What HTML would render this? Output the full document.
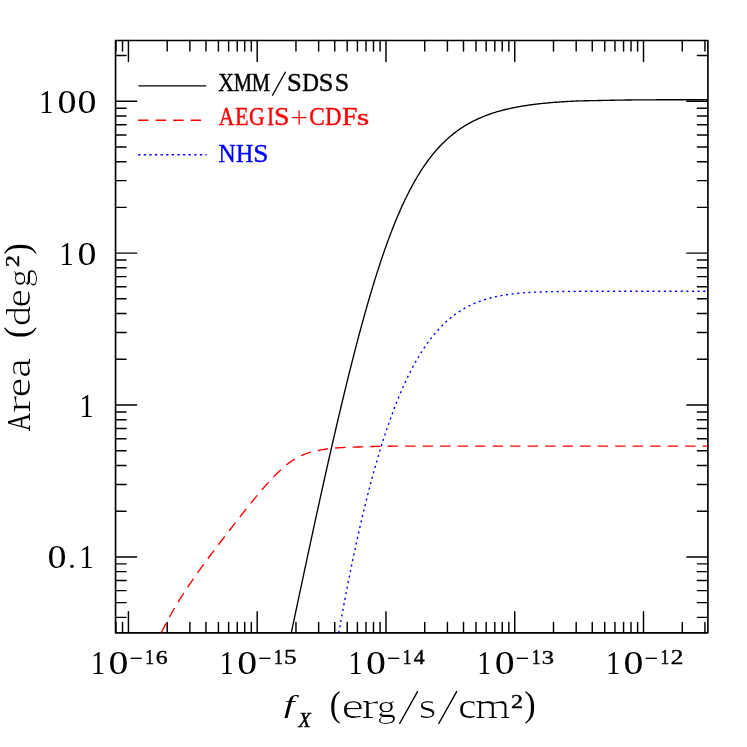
<!DOCTYPE html>
<html><head><meta charset="utf-8"><title>Area curve</title>
<style>html,body{margin:0;padding:0;background:#fff}body{width:747px;height:747px;overflow:hidden;font-family:"Liberation Serif",serif}svg{display:block;will-change:transform;transform:translateZ(0)}</style>
</head><body>
<svg width="747" height="747" viewBox="0 0 747 747">
<g fill="none" stroke="#000" stroke-width="1.45" stroke-linecap="round" stroke-linejoin="round">
<rect x="115.55" y="40.45" width="592.35" height="592.4" stroke-width="1.65"/>
<path d="M115.95 40.45 v10.5 M115.95 632.85 v-10.5 M122.53 40.45 v10.5 M122.53 632.85 v-10.5 M128.43 40.45 v21.1 M128.43 632.85 v-21.1 M167.19 40.45 v10.5 M167.19 632.85 v-10.5 M189.87 40.45 v10.5 M189.87 632.85 v-10.5 M205.96 40.45 v10.5 M205.96 632.85 v-10.5 M218.43 40.45 v10.5 M218.43 632.85 v-10.5 M228.63 40.45 v10.5 M228.63 632.85 v-10.5 M237.25 40.45 v10.5 M237.25 632.85 v-10.5 M244.72 40.45 v10.5 M244.72 632.85 v-10.5 M251.31 40.45 v10.5 M251.31 632.85 v-10.5 M257.2 40.45 v21.1 M257.2 632.85 v-21.1 M295.96 40.45 v10.5 M295.96 632.85 v-10.5 M318.64 40.45 v10.5 M318.64 632.85 v-10.5 M334.73 40.45 v10.5 M334.73 632.85 v-10.5 M347.21 40.45 v10.5 M347.21 632.85 v-10.5 M357.4 40.45 v10.5 M357.4 632.85 v-10.5 M366.02 40.45 v10.5 M366.02 632.85 v-10.5 M373.49 40.45 v10.5 M373.49 632.85 v-10.5 M380.08 40.45 v10.5 M380.08 632.85 v-10.5 M385.97 40.45 v21.1 M385.97 632.85 v-21.1 M424.73 40.45 v10.5 M424.73 632.85 v-10.5 M447.41 40.45 v10.5 M447.41 632.85 v-10.5 M463.5 40.45 v10.5 M463.5 632.85 v-10.5 M475.98 40.45 v10.5 M475.98 632.85 v-10.5 M486.17 40.45 v10.5 M486.17 632.85 v-10.5 M494.8 40.45 v10.5 M494.8 632.85 v-10.5 M502.26 40.45 v10.5 M502.26 632.85 v-10.5 M508.85 40.45 v10.5 M508.85 632.85 v-10.5 M514.74 40.45 v21.1 M514.74 632.85 v-21.1 M553.51 40.45 v10.5 M553.51 632.85 v-10.5 M576.18 40.45 v10.5 M576.18 632.85 v-10.5 M592.27 40.45 v10.5 M592.27 632.85 v-10.5 M604.75 40.45 v10.5 M604.75 632.85 v-10.5 M614.95 40.45 v10.5 M614.95 632.85 v-10.5 M623.57 40.45 v10.5 M623.57 632.85 v-10.5 M631.03 40.45 v10.5 M631.03 632.85 v-10.5 M637.62 40.45 v10.5 M637.62 632.85 v-10.5 M643.51 40.45 v21.1 M643.51 632.85 v-21.1 M682.28 40.45 v10.5 M682.28 632.85 v-10.5 M704.95 40.45 v10.5 M704.95 632.85 v-10.5 M115.55 617.35 h10.5 M707.9 617.35 h-10.5 M115.55 602.63 h10.5 M707.9 602.63 h-10.5 M115.55 590.6 h10.5 M707.9 590.6 h-10.5 M115.55 580.43 h10.5 M707.9 580.43 h-10.5 M115.55 571.62 h10.5 M707.9 571.62 h-10.5 M115.55 563.85 h10.5 M707.9 563.85 h-10.5 M115.55 556.9 h21.1 M707.9 556.9 h-21.1 M115.55 511.18 h10.5 M707.9 511.18 h-10.5 M115.55 484.43 h10.5 M707.9 484.43 h-10.5 M115.55 465.45 h10.5 M707.9 465.45 h-10.5 M115.55 450.73 h10.5 M707.9 450.73 h-10.5 M115.55 438.7 h10.5 M707.9 438.7 h-10.5 M115.55 428.53 h10.5 M707.9 428.53 h-10.5 M115.55 419.72 h10.5 M707.9 419.72 h-10.5 M115.55 411.95 h10.5 M707.9 411.95 h-10.5 M115.55 405 h21.1 M707.9 405 h-21.1 M115.55 359.28 h10.5 M707.9 359.28 h-10.5 M115.55 332.53 h10.5 M707.9 332.53 h-10.5 M115.55 313.55 h10.5 M707.9 313.55 h-10.5 M115.55 298.83 h10.5 M707.9 298.83 h-10.5 M115.55 286.8 h10.5 M707.9 286.8 h-10.5 M115.55 276.64 h10.5 M707.9 276.64 h-10.5 M115.55 267.83 h10.5 M707.9 267.83 h-10.5 M115.55 260.06 h10.5 M707.9 260.06 h-10.5 M115.55 253.11 h21.1 M707.9 253.11 h-21.1 M115.55 207.38 h10.5 M707.9 207.38 h-10.5 M115.55 180.63 h10.5 M707.9 180.63 h-10.5 M115.55 161.66 h10.5 M707.9 161.66 h-10.5 M115.55 146.93 h10.5 M707.9 146.93 h-10.5 M115.55 134.91 h10.5 M707.9 134.91 h-10.5 M115.55 124.74 h10.5 M707.9 124.74 h-10.5 M115.55 115.93 h10.5 M707.9 115.93 h-10.5 M115.55 108.16 h10.5 M707.9 108.16 h-10.5 M115.55 101.21 h21.1 M707.9 101.21 h-21.1 M115.55 55.48 h10.5 M707.9 55.48 h-10.5"/>
</g>
<clipPath id="c"><rect x="115.55" y="40.45" width="592.35" height="592.4"/></clipPath>
<g fill="none" clip-path="url(#c)" stroke-linejoin="round">
<path stroke="#000" stroke-width="1.35" d="M282 677.28 L282.3 675.85 L282.6 674.41 L282.9 672.97 L283.2 671.54 L283.5 670.1 L283.8 668.66 L284.1 667.23 L284.4 665.79 L284.7 664.36 L285 662.92 L285.3 661.49 L285.6 660.05 L285.9 658.62 L286.2 657.18 L286.5 655.75 L286.8 654.32 L287.1 652.89 L287.4 651.45 L287.7 650.02 L288 648.59 L288.3 647.16 L288.6 645.73 L288.9 644.3 L289.2 642.87 L289.5 641.44 L289.8 640.01 L290.1 638.58 L290.4 637.15 L290.7 635.72 L291 634.3 L291.3 632.87 L291.6 631.44 L291.9 630.02 L292.2 628.59 L292.5 627.17 L292.8 625.74 L293.1 624.32 L293.4 622.89 L293.7 621.47 L294 620.04 L294.3 618.62 L294.6 617.2 L294.9 615.78 L295.2 614.36 L295.5 612.93 L295.8 611.51 L296.1 610.09 L296.4 608.67 L296.7 607.26 L297 605.84 L297.3 604.42 L297.6 603 L297.9 601.58 L298.2 600.17 L298.5 598.75 L298.8 597.34 L299.1 595.92 L299.4 594.51 L299.7 593.09 L300 591.68 L300.3 590.27 L300.6 588.85 L300.9 587.44 L301.2 586.03 L301.5 584.62 L301.8 583.21 L302.1 581.8 L302.4 580.39 L302.7 578.99 L303 577.58 L303.3 576.17 L303.6 574.76 L303.9 573.36 L304.2 571.95 L304.5 570.55 L304.8 569.15 L305.1 567.74 L305.4 566.34 L305.7 564.94 L306 563.54 L306.3 562.14 L306.6 560.74 L306.9 559.34 L307.2 557.94 L307.5 556.54 L307.8 555.14 L308.1 553.75 L308.4 552.35 L308.7 550.96 L309 549.56 L309.3 548.17 L309.6 546.78 L309.9 545.39 L310.2 544 L310.5 542.61 L310.8 541.22 L311.1 539.83 L311.4 538.44 L311.7 537.05 L312 535.67 L312.3 534.28 L312.6 532.9 L312.9 531.51 L313.2 530.13 L313.5 528.75 L313.8 527.37 L314.1 525.99 L314.4 524.61 L314.7 523.23 L315 521.85 L315.3 520.47 L315.6 519.1 L315.9 517.72 L316.2 516.35 L316.5 514.97 L316.8 513.6 L317.1 512.23 L317.4 510.86 L317.7 509.49 L318 508.12 L318.3 506.76 L318.6 505.39 L318.9 504.02 L319.2 502.66 L319.5 501.3 L319.8 499.93 L320.1 498.57 L320.4 497.21 L320.7 495.85 L321 494.5 L321.3 493.14 L321.6 491.78 L321.9 490.43 L322.2 489.07 L322.5 487.72 L322.8 486.37 L323.1 485.02 L323.4 483.67 L323.7 482.32 L324 480.98 L324.3 479.63 L324.6 478.29 L324.9 476.94 L325.2 475.6 L325.5 474.26 L325.8 472.92 L326.1 471.58 L326.4 470.25 L326.7 468.91 L327 467.58 L327.3 466.24 L327.6 464.91 L327.9 463.58 L328.2 462.25 L328.5 460.92 L328.8 459.6 L329.1 458.27 L329.4 456.95 L329.7 455.62 L330 454.3 L330.3 452.98 L330.6 451.67 L330.9 450.35 L331.2 449.03 L331.5 447.72 L331.8 446.41 L332.1 445.1 L332.4 443.79 L332.7 442.48 L333 441.17 L333.3 439.87 L333.6 438.56 L333.9 437.26 L334.2 435.96 L334.5 434.66 L334.8 433.37 L335.1 432.07 L335.4 430.78 L335.7 429.48 L336 428.19 L336.3 426.9 L336.6 425.62 L336.9 424.33 L337.2 423.05 L337.5 421.76 L337.8 420.48 L338.1 419.2 L338.4 417.93 L338.7 416.65 L339 415.38 L339.3 414.11 L339.6 412.84 L339.9 411.57 L340.2 410.3 L340.5 409.04 L340.8 407.77 L341.1 406.51 L341.4 405.25 L341.7 404 L342 402.74 L342.3 401.49 L342.6 400.24 L342.9 398.99 L343.2 397.74 L343.5 396.49 L343.8 395.25 L344.1 394.01 L344.4 392.77 L344.7 391.53 L345 390.29 L345.3 389.06 L345.6 387.83 L345.9 386.6 L346.2 385.37 L346.5 384.15 L346.8 382.92 L347.1 381.7 L347.4 380.48 L347.7 379.27 L348 378.05 L348.3 376.84 L348.6 375.63 L348.9 374.42 L349.2 373.22 L349.5 372.01 L349.8 370.81 L350.1 369.61 L350.4 368.42 L350.7 367.22 L351 366.03 L351.3 364.84 L351.6 363.65 L351.9 362.47 L352.2 361.29 L352.5 360.11 L352.8 358.93 L353.1 357.75 L353.4 356.58 L353.7 355.41 L354 354.24 L354.3 353.07 L354.6 351.91 L354.9 350.75 L355.2 349.59 L355.5 348.44 L355.8 347.28 L356.1 346.13 L356.4 344.99 L356.7 343.84 L357 342.7 L357.3 341.56 L357.6 340.42 L357.9 339.28 L358.2 338.15 L358.5 337.02 L358.8 335.89 L359.1 334.77 L359.4 333.65 L359.7 332.53 L360 331.41 L360.3 330.3 L360.6 329.19 L360.9 328.08 L361.2 326.98 L361.5 325.87 L361.8 324.77 L362.1 323.68 L362.4 322.58 L362.7 321.49 L363 320.4 L363.3 319.32 L363.6 318.23 L363.9 317.15 L364.2 316.08 L364.5 315 L364.8 313.93 L365.1 312.86 L365.4 311.8 L365.7 310.74 L366 309.68 L366.3 308.62 L366.6 307.57 L366.9 306.52 L367.2 305.47 L367.5 304.43 L367.8 303.38 L368.1 302.35 L368.4 301.31 L368.7 300.28 L369 299.25 L369.3 298.22 L369.6 297.2 L369.9 296.18 L370.2 295.16 L370.5 294.15 L370.8 293.14 L371.1 292.13 L371.4 291.13 L371.7 290.13 L372 289.13 L372.3 288.14 L372.6 287.14 L372.9 286.16 L373.2 285.17 L373.5 284.19 L373.8 283.21 L374.1 282.24 L374.4 281.26 L374.7 280.29 L375 279.33 L375.3 278.37 L375.6 277.41 L375.9 276.45 L376.3 275.18 L376.7 273.92 L377.1 272.66 L377.5 271.41 L377.9 270.16 L378.3 268.92 L378.7 267.69 L379.1 266.46 L379.5 265.24 L379.9 264.02 L380.3 262.81 L380.7 261.61 L381.1 260.41 L381.5 259.22 L381.9 258.03 L382.3 256.85 L382.7 255.68 L383.1 254.51 L383.5 253.35 L383.9 252.19 L384.3 251.04 L384.7 249.9 L385.1 248.76 L385.5 247.63 L385.9 246.5 L386.3 245.38 L386.7 244.27 L387.1 243.16 L387.5 242.06 L387.9 240.96 L388.3 239.88 L388.7 238.79 L389.1 237.72 L389.5 236.65 L389.9 235.58 L390.3 234.52 L390.7 233.47 L391.1 232.42 L391.5 231.38 L391.9 230.35 L392.3 229.32 L392.7 228.3 L393.1 227.28 L393.5 226.28 L393.9 225.27 L394.3 224.27 L394.7 223.28 L395.1 222.3 L395.5 221.32 L395.9 220.34 L396.3 219.38 L396.7 218.42 L397.1 217.46 L397.5 216.51 L397.9 215.57 L398.3 214.63 L398.7 213.7 L399.1 212.78 L399.5 211.86 L400 210.72 L400.5 209.58 L401 208.46 L401.5 207.35 L402 206.25 L402.5 205.15 L403 204.07 L403.5 202.99 L404 201.92 L404.5 200.86 L405 199.81 L405.5 198.77 L406 197.74 L406.5 196.72 L407 195.71 L407.5 194.7 L408 193.71 L408.5 192.72 L409 191.74 L409.5 190.77 L410 189.81 L410.5 188.86 L411 187.91 L411.5 186.98 L412 186.05 L412.5 185.13 L413 184.22 L413.5 183.32 L414 182.43 L414.5 181.54 L415 180.67 L415.5 179.8 L416.1 178.76 L416.7 177.74 L417.3 176.73 L417.9 175.74 L418.5 174.75 L419.1 173.78 L419.7 172.81 L420.3 171.86 L420.9 170.92 L421.5 169.99 L422.1 169.07 L422.7 168.16 L423.3 167.26 L423.9 166.37 L424.5 165.49 L425.1 164.63 L425.7 163.77 L426.3 162.92 L426.9 162.09 L427.5 161.26 L428.1 160.44 L428.7 159.64 L429.4 158.71 L430.1 157.79 L430.8 156.89 L431.5 156 L432.2 155.12 L432.9 154.26 L433.6 153.4 L434.3 152.56 L435 151.73 L435.7 150.92 L436.4 150.11 L437.1 149.32 L437.8 148.54 L438.5 147.77 L439.2 147.01 L439.9 146.26 L440.6 145.53 L441.3 144.8 L442 144.09 L442.8 143.28 L443.6 142.49 L444.4 141.72 L445.2 140.95 L446 140.2 L446.8 139.46 L447.6 138.74 L448.4 138.03 L449.2 137.33 L450 136.64 L450.8 135.96 L451.6 135.3 L452.4 134.64 L453.2 134 L454 133.37 L454.8 132.75 L455.6 132.14 L456.5 131.47 L457.4 130.81 L458.3 130.16 L459.2 129.53 L460.1 128.91 L461 128.3 L461.9 127.7 L462.8 127.12 L463.7 126.55 L464.6 125.98 L465.5 125.43 L466.4 124.89 L467.3 124.36 L468.2 123.85 L469.1 123.34 L470 122.84 L470.9 122.35 L471.8 121.87 L472.7 121.41 L473.6 120.95 L474.5 120.5 L475.4 120.06 L476.4 119.58 L477.4 119.11 L478.4 118.65 L479.4 118.2 L480.4 117.76 L481.4 117.34 L482.4 116.92 L483.4 116.51 L484.4 116.11 L485.4 115.72 L486.4 115.34 L487.4 114.96 L488.4 114.6 L489.4 114.24 L490.4 113.89 L491.4 113.55 L492.4 113.22 L493.4 112.9 L494.4 112.58 L495.4 112.27 L496.4 111.96 L497.4 111.67 L498.4 111.38 L499.4 111.09 L500.4 110.82 L501.4 110.54 L502.4 110.28 L503.4 110.02 L504.4 109.77 L505.4 109.52 L506.4 109.28 L507.4 109.04 L508.4 108.81 L509.4 108.59 L510.4 108.37 L511.4 108.15 L512.4 107.94 L513.4 107.74 L514.4 107.54 L515.4 107.34 L516.4 107.15 L517.4 106.96 L518.4 106.78 L519.4 106.6 L520.4 106.43 L521.4 106.25 L522.4 106.09 L523.4 105.92 L524.4 105.77 L525.4 105.61 L526.4 105.46 L527.4 105.31 L528.4 105.16 L529.4 105.02 L530.4 104.88 L531.4 104.75 L532.4 104.62 L533.4 104.49 L534.4 104.36 L535.4 104.24 L536.4 104.12 L537.4 104 L538.4 103.88 L539.4 103.77 L540.4 103.66 L541.4 103.55 L542.4 103.45 L543.4 103.34 L544.4 103.24 L545.4 103.15 L546.4 103.05 L547.4 102.96 L548.4 102.87 L549.4 102.78 L550.4 102.69 L551.4 102.6 L552.4 102.52 L553.4 102.44 L554.4 102.36 L555.4 102.28 L556.4 102.21 L557.4 102.13 L558.4 102.06 L559.4 101.99 L560.4 101.92 L561.4 101.86 L562.4 101.79 L563.4 101.73 L564.4 101.67 L565.4 101.61 L566.4 101.54 L567.4 101.48 L568.4 101.43 L569.4 101.37 L570.4 101.31 L571.4 101.26 L572.4 101.21 L573.4 101.16 L574.4 101.11 L575.4 101.07 L576.4 101.03 L577.4 100.99 L578.4 100.95 L579.4 100.92 L580.4 100.89 L581.4 100.86 L582.4 100.84 L583.4 100.81 L584.4 100.79 L585.4 100.77 L586.4 100.74 L587.4 100.72 L588.4 100.71 L589.4 100.69 L590.4 100.67 L591.4 100.65 L592.4 100.63 L593.4 100.62 L594.4 100.6 L595.4 100.58 L596.4 100.57 L597.4 100.55 L598.4 100.53 L599.4 100.51 L600.4 100.49 L601.4 100.47 L602.4 100.45 L603.4 100.43 L604.4 100.41 L605.4 100.39 L606.4 100.37 L607.4 100.35 L608.4 100.33 L609.4 100.31 L610.4 100.29 L611.4 100.27 L612.4 100.25 L613.4 100.23 L614.4 100.21 L615.4 100.2 L616.4 100.18 L617.4 100.16 L618.4 100.14 L619.4 100.13 L620.4 100.11 L621.4 100.1 L622.4 100.08 L623.4 100.07 L624.4 100.06 L625.4 100.04 L626.4 100.03 L627.4 100.01 L628.4 100 L629.4 99.99 L630.4 99.98 L631.4 99.96 L632.4 99.95 L633.4 99.94 L634.4 99.93 L635.4 99.92 L636.4 99.91 L637.4 99.9 L638.4 99.89 L639.4 99.88 L640.4 99.88 L641.4 99.87 L642.4 99.86 L643.4 99.86 L644.4 99.85 L645.4 99.84 L646.4 99.84 L647.4 99.83 L648.4 99.83 L649.4 99.82 L650.4 99.82 L651.4 99.81 L652.4 99.81 L653.4 99.8 L654.4 99.8 L655.4 99.8 L656.4 99.79 L657.4 99.79 L658.4 99.78 L659.4 99.78 L660.4 99.78 L661.4 99.78 L662.4 99.77 L663.4 99.77 L664.4 99.77 L665.4 99.77 L666.4 99.76 L667.4 99.76 L668.4 99.76 L669.4 99.76 L670.4 99.75 L671.4 99.75 L672.4 99.75 L673.4 99.75 L674.4 99.74 L675.4 99.74 L676.4 99.74 L677.4 99.74 L678.4 99.74 L679.4 99.74 L680.4 99.73 L681.4 99.73 L682.4 99.73 L683.4 99.73 L684.4 99.73 L685.4 99.73 L686.4 99.72 L687.4 99.72 L688.4 99.72 L689.4 99.72 L690.4 99.72 L691.4 99.72 L692.4 99.72 L693.4 99.72 L694.4 99.71 L695.4 99.71 L696.4 99.71 L697.4 99.71 L698.4 99.71 L699.4 99.71 L700.4 99.71 L701.4 99.71 L702.4 99.71 L703.4 99.71 L704.4 99.7 L705.4 99.7 L706.4 99.7 L707.4 99.7 L708.4 99.7 L709.4 99.7 L709.9 99.7"/>
<path stroke="#f00" stroke-width="1.35" stroke-dasharray="10.45 7.05" stroke-dashoffset="-4.1" d="M159.5 636.36 L162 631.26 L164.5 626.34 L167 621.58 L169.5 616.98 L172 612.52 L174.5 608.2 L177 603.99 L179.5 599.9 L182 595.91 L184.5 592.02 L187 588.21 L189.5 584.47 L192 580.8 L194.5 577.2 L197 573.65 L199.5 570.15 L202 566.69 L204.5 563.26 L207 559.87 L209.5 556.51 L212 553.18 L214.5 549.86 L217 546.56 L219.5 543.28 L222 540.01 L224.5 536.75 L227 533.5 L229.5 530.27 L232 527.04 L234.5 523.83 L237 520.62 L239.5 517.43 L242 514.26 L244.5 511.1 L247 507.96 L249.5 504.84 L252 501.75 L254.5 498.69 L257 495.67 L259.5 492.69 L262 489.75 L264.5 486.87 L267 484.05 L269.5 481.29 L272 478.6 L274.5 476 L277 473.49 L279.5 471.07 L282 468.77 L284.5 466.58 L287 464.52 L289.5 462.61 L292 460.84 L292.5 460.5 L294 459.57 L295.5 458.67 L297 457.82 L298.5 457.02 L300 456.28 L301.5 455.59 L303 454.93 L304.5 454.31 L306 453.72 L307.5 453.18 L309 452.68 L310.5 452.24 L312 451.84 L313.5 451.46 L315 451.12 L316.5 450.8 L318 450.5 L319.5 450.22 L321 449.95 L322.5 449.7 L324 449.46 L325.5 449.23 L327 449.01 L328.5 448.8 L330 448.59 L331.5 448.39 L333 448.21 L334.5 448.08 L336 447.96 L337.5 447.85 L339 447.76 L340.5 447.67 L342 447.59 L343.5 447.52 L345 447.45 L346.5 447.38 L348 447.32 L349.5 447.26 L351 447.21 L352.5 447.16 L354 447.12 L355.5 447.08 L357 447.04 L358.5 447 L360 446.96 L361.5 446.92 L363 446.86 L364.5 446.81 L366 446.74 L367.5 446.69 L369 446.63 L370.5 446.58 L372 446.53 L373.5 446.49 L375 446.44 L376.5 446.4 L378 446.37 L379.5 446.35 L381 446.32 L382.5 446.3 L384 446.28 L385.5 446.26 L387 446.25 L388.5 446.23 L390 446.21 L391.5 446.2 L393 446.19 L394.5 446.18 L396 446.17 L397.5 446.16 L399 446.15 L400.5 446.15 L402 446.15 L403.5 446.14 L405 446.14 L406.5 446.14 L408 446.13 L409.5 446.13 L411 446.13 L412.5 446.12 L414 446.12 L415.5 446.12 L417 446.12 L418.5 446.11 L420 446.11 L421.5 446.11 L423 446.11 L424.5 446.11 L426 446.11 L427.5 446.11 L429 446.1 L430.5 446.1 L432 446.1 L433.5 446.1 L435 446.1 L436.5 446.1 L438 446.1 L439.5 446.1 L441 446.1 L442.5 446.1 L444 446.1 L445.5 446.1 L447 446.1 L448.5 446.1 L450 446.1 L451.5 446.1 L453 446.1 L454.5 446.1 L456 446.1 L457.5 446.1 L459 446.1 L708.9 446.1"/>
<path stroke="#00f" stroke-width="1.4" stroke-dasharray="2.1 3.538" stroke-dashoffset="2.9" d="M329 691.34 L329.2 690.08 L329.4 688.83 L329.6 687.57 L329.8 686.32 L330 685.07 L330.2 683.83 L330.4 682.59 L330.6 681.34 L330.8 680.11 L331 678.87 L331.2 677.64 L331.4 676.41 L331.6 675.18 L331.8 673.96 L332 672.73 L332.2 671.52 L332.4 670.3 L332.6 669.08 L332.8 667.87 L333 666.66 L333.2 665.46 L333.4 664.25 L333.6 663.05 L333.8 661.86 L334 660.66 L334.2 659.47 L334.4 658.28 L334.6 657.09 L334.8 655.9 L335 654.72 L335.2 653.54 L335.4 652.36 L335.6 651.19 L335.8 650.02 L336 648.85 L336.2 647.68 L336.4 646.52 L336.6 645.35 L336.8 644.2 L337 643.04 L337.2 641.88 L337.4 640.73 L337.6 639.58 L337.8 638.44 L338 637.3 L338.2 636.15 L338.4 635.02 L338.6 633.88 L338.8 632.75 L339 631.62 L339.2 630.49 L339.4 629.36 L339.6 628.24 L339.8 627.12 L340 626 L340.2 624.89 L340.4 623.77 L340.6 622.66 L340.8 621.56 L341 620.45 L341.2 619.35 L341.4 618.25 L341.6 617.15 L341.8 616.06 L342 614.96 L342.2 613.87 L342.4 612.79 L342.6 611.7 L342.8 610.62 L343 609.54 L343.2 608.46 L343.4 607.39 L343.6 606.32 L343.8 605.25 L344 604.18 L344.2 603.11 L344.4 602.05 L344.6 600.99 L344.8 599.93 L345 598.88 L345.2 597.83 L345.4 596.78 L345.6 595.73 L345.8 594.69 L346 593.65 L346.2 592.61 L346.4 591.57 L346.6 590.53 L346.8 589.5 L347 588.47 L347.2 587.44 L347.4 586.42 L347.6 585.4 L347.8 584.38 L348 583.36 L348.2 582.35 L348.4 581.33 L348.6 580.32 L348.8 579.32 L349 578.31 L349.2 577.31 L349.4 576.31 L349.6 575.31 L349.8 574.32 L350 573.32 L350.2 572.33 L350.4 571.34 L350.6 570.36 L350.8 569.38 L351 568.4 L351.3 566.93 L351.6 565.47 L351.9 564.01 L352.2 562.56 L352.5 561.12 L352.8 559.68 L353.1 558.24 L353.4 556.82 L353.7 555.39 L354 553.98 L354.3 552.56 L354.6 551.16 L354.9 549.76 L355.2 548.36 L355.5 546.97 L355.8 545.58 L356.1 544.2 L356.4 542.83 L356.7 541.46 L357 540.09 L357.3 538.73 L357.6 537.38 L357.9 536.03 L358.2 534.69 L358.5 533.35 L358.8 532.02 L359.1 530.69 L359.4 529.37 L359.7 528.05 L360 526.74 L360.3 525.43 L360.6 524.13 L360.9 522.83 L361.2 521.54 L361.5 520.26 L361.8 518.97 L362.1 517.7 L362.4 516.43 L362.7 515.16 L363 513.9 L363.3 512.65 L363.6 511.4 L363.9 510.15 L364.2 508.91 L364.5 507.68 L364.8 506.44 L365.1 505.22 L365.4 504 L365.7 502.78 L366 501.57 L366.3 500.37 L366.6 499.17 L366.9 497.97 L367.2 496.78 L367.5 495.6 L367.8 494.42 L368.1 493.24 L368.4 492.07 L368.7 490.91 L369 489.74 L369.3 488.59 L369.6 487.44 L369.9 486.29 L370.2 485.15 L370.5 484.01 L370.8 482.88 L371.1 481.76 L371.4 480.63 L371.7 479.52 L372 478.4 L372.3 477.3 L372.6 476.19 L372.9 475.1 L373.2 474 L373.5 472.91 L373.8 471.83 L374.1 470.75 L374.4 469.68 L374.7 468.61 L375 467.54 L375.3 466.48 L375.6 465.43 L375.9 464.37 L376.2 463.33 L376.5 462.29 L376.8 461.25 L377.1 460.22 L377.4 459.19 L377.7 458.17 L378 457.15 L378.3 456.13 L378.6 455.12 L378.9 454.12 L379.2 453.12 L379.5 452.12 L379.8 451.13 L380.1 450.14 L380.4 449.16 L380.7 448.18 L381 447.21 L381.3 446.24 L381.6 445.27 L381.9 444.31 L382.2 443.36 L382.6 442.09 L383 440.83 L383.4 439.58 L383.8 438.34 L384.2 437.1 L384.6 435.87 L385 434.65 L385.4 433.44 L385.8 432.23 L386.2 431.03 L386.6 429.84 L387 428.66 L387.4 427.48 L387.8 426.31 L388.2 425.15 L388.6 424 L389 422.86 L389.4 421.72 L389.8 420.59 L390.2 419.46 L390.6 418.35 L391 417.24 L391.4 416.14 L391.8 415.04 L392.2 413.95 L392.6 412.87 L393 411.8 L393.4 410.74 L393.8 409.68 L394.2 408.63 L394.6 407.58 L395 406.54 L395.4 405.51 L395.8 404.49 L396.2 403.47 L396.6 402.46 L397 401.46 L397.4 400.46 L397.8 399.47 L398.2 398.49 L398.6 397.52 L399 396.55 L399.4 395.58 L399.8 394.63 L400.2 393.68 L400.6 392.74 L401 391.8 L401.4 390.87 L401.8 389.95 L402.3 388.81 L402.8 387.67 L403.3 386.55 L403.8 385.43 L404.3 384.33 L404.8 383.24 L405.3 382.15 L405.8 381.08 L406.3 380.01 L406.8 378.96 L407.3 377.91 L407.8 376.88 L408.3 375.85 L408.8 374.83 L409.3 373.83 L409.8 372.83 L410.3 371.84 L410.8 370.86 L411.3 369.89 L411.8 368.93 L412.3 367.98 L412.8 367.03 L413.3 366.1 L413.8 365.17 L414.3 364.26 L414.8 363.35 L415.3 362.45 L415.8 361.56 L416.3 360.68 L416.8 359.81 L417.4 358.77 L418 357.75 L418.6 356.74 L419.2 355.74 L419.8 354.75 L420.4 353.77 L421 352.81 L421.6 351.86 L422.2 350.91 L422.8 349.98 L423.4 349.07 L424 348.16 L424.6 347.26 L425.2 346.38 L425.8 345.51 L426.4 344.64 L427 343.79 L427.6 342.95 L428.2 342.12 L428.8 341.3 L429.4 340.49 L430.1 339.56 L430.8 338.64 L431.5 337.74 L432.2 336.85 L432.9 335.97 L433.6 335.11 L434.3 334.26 L435 333.42 L435.7 332.6 L436.4 331.79 L437.1 330.99 L437.8 330.21 L438.5 329.44 L439.2 328.67 L439.9 327.93 L440.6 327.19 L441.3 326.47 L442.1 325.65 L442.9 324.85 L443.7 324.07 L444.5 323.3 L445.3 322.55 L446.1 321.81 L446.9 321.08 L447.7 320.37 L448.5 319.67 L449.3 318.99 L450.1 318.32 L450.9 317.66 L451.7 317.02 L452.5 316.38 L453.3 315.76 L454.1 315.16 L455 314.49 L455.9 313.84 L456.8 313.2 L457.7 312.58 L458.6 311.97 L459.5 311.37 L460.4 310.79 L461.3 310.23 L462.2 309.68 L463.1 309.14 L464 308.61 L464.9 308.1 L465.8 307.6 L466.7 307.11 L467.6 306.63 L468.5 306.17 L469.4 305.71 L470.3 305.27 L471.3 304.79 L472.3 304.33 L473.3 303.88 L474.3 303.44 L475.3 303.02 L476.3 302.61 L477.3 302.2 L478.3 301.82 L479.3 301.44 L480.3 301.07 L481.3 300.72 L482.3 300.38 L483.3 300.04 L484.3 299.72 L485.3 299.41 L486.3 299.1 L487.3 298.81 L488.3 298.53 L489.3 298.25 L490.3 297.98 L491.3 297.73 L492.3 297.48 L493.3 297.24 L494.3 297 L495.3 296.78 L496.3 296.56 L497.3 296.35 L498.3 296.15 L499.3 295.95 L500.3 295.76 L501.3 295.58 L502.3 295.4 L503.3 295.23 L504.3 295.07 L505.3 294.91 L506.3 294.76 L507.3 294.61 L508.3 294.47 L509.3 294.33 L510.3 294.2 L511.3 294.07 L512.3 293.95 L513.3 293.83 L514.3 293.72 L515.3 293.61 L516.3 293.5 L517.3 293.4 L518.3 293.31 L519.3 293.22 L520.3 293.13 L521.3 293.04 L522.3 292.96 L523.3 292.88 L524.3 292.8 L525.3 292.73 L526.3 292.66 L527.3 292.59 L528.3 292.53 L529.3 292.47 L530.3 292.41 L531.3 292.35 L532.3 292.3 L533.3 292.25 L534.3 292.2 L535.3 292.15 L536.3 292.11 L537.3 292.07 L538.3 292.02 L539.3 291.99 L540.3 291.95 L541.3 291.91 L542.3 291.88 L543.3 291.85 L544.3 291.81 L545.3 291.79 L546.3 291.76 L547.3 291.73 L548.3 291.7 L549.3 291.68 L550.3 291.66 L551.3 291.64 L552.3 291.61 L553.3 291.59 L554.3 291.58 L555.3 291.56 L556.3 291.54 L557.3 291.52 L558.3 291.51 L559.3 291.49 L560.3 291.48 L561.3 291.47 L562.3 291.45 L563.3 291.44 L564.3 291.43 L565.3 291.42 L566.3 291.41 L567.3 291.4 L568.3 291.39 L569.3 291.38 L570.3 291.38 L571.3 291.37 L572.3 291.36 L573.3 291.36 L574.3 291.35 L575.3 291.34 L576.3 291.34 L577.3 291.33 L578.3 291.33 L579.3 291.32 L580.3 291.32 L581.3 291.31 L582.3 291.31 L583.3 291.31 L584.3 291.3 L585.3 291.3 L586.3 291.3 L587.3 291.29 L588.3 291.29 L589.3 291.29 L590.3 291.29 L591.3 291.28 L592.3 291.28 L593.3 291.28 L594.3 291.28 L595.3 291.28 L596.3 291.28 L597.3 291.27 L598.3 291.27 L599.3 291.27 L600.3 291.27 L601.3 291.27 L602.3 291.27 L603.3 291.27 L604.3 291.27 L605.3 291.27 L606.3 291.26 L607.3 291.26 L608.3 291.26 L609.3 291.26 L610.3 291.26 L611.3 291.26 L612.3 291.26 L613.3 291.26 L614.3 291.26 L615.3 291.26 L616.3 291.26 L617.3 291.26 L618.3 291.26 L619.3 291.26 L620.3 291.26 L621.3 291.26 L622.3 291.26 L623.3 291.26 L624.3 291.26 L625.3 291.26 L626.3 291.26 L627.3 291.26 L628.3 291.26 L629.3 291.26 L630.3 291.26 L631.3 291.26 L632.3 291.26 L633.3 291.26 L634.3 291.26 L635.3 291.26 L636.3 291.26 L637.3 291.26 L638.3 291.26 L639.3 291.26 L640.3 291.26 L641.3 291.26 L642.3 291.26 L643.3 291.26 L644.3 291.26 L645.3 291.26 L646.3 291.26 L647.3 291.26 L648.3 291.26 L649.3 291.26 L650.3 291.26 L651.3 291.26 L652.3 291.26 L653.3 291.26 L654.3 291.26 L655.3 291.26 L656.3 291.26 L657.3 291.26 L658.3 291.26 L659.3 291.26 L660.3 291.26 L661.3 291.26 L662.3 291.26 L663.3 291.26 L664.3 291.26 L665.3 291.26 L666.3 291.26 L667.3 291.26 L668.3 291.26 L669.3 291.26 L670.3 291.26 L671.3 291.26 L672.3 291.26 L673.3 291.26 L674.3 291.26 L675.3 291.26 L676.3 291.26 L677.3 291.26 L678.3 291.26 L679.3 291.26 L680.3 291.26 L681.3 291.26 L682.3 291.26 L683.3 291.26 L684.3 291.26 L685.3 291.26 L686.3 291.26 L687.3 291.26 L688.3 291.26 L689.3 291.26 L690.3 291.26 L691.3 291.26 L692.3 291.26 L693.3 291.26 L694.3 291.26 L695.3 291.26 L696.3 291.26 L697.3 291.26 L698.3 291.26 L699.3 291.26 L700.3 291.26 L701.3 291.26 L702.3 291.26 L703.3 291.26 L704.3 291.26 L705.3 291.26 L706.3 291.26 L707.3 291.26 L708.3 291.26 L709.3 291.26 L709.9 291.26"/>
</g>
<g fill="none">
<path stroke="#000" stroke-width="1.4" d="M138.4 85.9 H206.3"/>
<path stroke="#f00" stroke-width="1.4" stroke-dasharray="10.4 7.13" d="M138.1 120.3 H206.3"/>
<path stroke="#00f" stroke-width="1.4" stroke-dasharray="2.3 3.31" d="M138.1 154.7 H206.7"/>
</g>
<g font-family="'Liberation Serif', serif" fill="#000">
<text transform="matrix(0.2170 0 0 0.2489 218.22 91.10)" font-size="100" stroke="#000" stroke-width="1.72" stroke-linejoin="round">X</text>
<text transform="matrix(0.2058 0 0 0.2489 233.81 91.10)" font-size="100" stroke="#000" stroke-width="1.77" stroke-linejoin="round">M</text>
<text transform="matrix(0.2058 0 0 0.2489 251.81 91.10)" font-size="100" stroke="#000" stroke-width="1.77" stroke-linejoin="round">M</text>
<text transform="matrix(0.2668 0 0 0.2493 287.02 91.11)" font-size="100" stroke="#000" stroke-width="1.55" stroke-linejoin="round">S</text>
<text transform="matrix(0.2311 0 0 0.2482 302.13 91.05)" font-size="100" stroke="#000" stroke-width="1.67" stroke-linejoin="round">D</text>
<text transform="matrix(0.2645 0 0 0.2493 318.83 91.11)" font-size="100" stroke="#000" stroke-width="1.56" stroke-linejoin="round">S</text>
<text transform="matrix(0.2598 0 0 0.2493 334.76 91.11)" font-size="100" stroke="#000" stroke-width="1.57" stroke-linejoin="round">S</text>
<path d="M272.3 95.6 L285.6 71.8" stroke="#000" stroke-width="1.3" fill="none"/>
<text transform="matrix(0.2142 0 0 0.2484 218.69 125.40)" font-size="100" fill="#f00" stroke="#f00" stroke-width="1.73" stroke-linejoin="round">A</text>
<text transform="matrix(0.2236 0 0 0.2505 234.96 125.40)" font-size="100" fill="#f00" stroke="#f00" stroke-width="1.69" stroke-linejoin="round">E</text>
<text transform="matrix(0.2185 0 0 0.2508 249.10 125.41)" font-size="100" fill="#f00" stroke="#f00" stroke-width="1.71" stroke-linejoin="round">G</text>
<text transform="matrix(0.2025 0 0 0.2505 267.17 125.40)" font-size="100" fill="#f00" stroke="#f00" stroke-width="1.78" stroke-linejoin="round">I</text>
<text transform="matrix(0.2809 0 0 0.2508 274.12 125.41)" font-size="100" fill="#f00" stroke="#f00" stroke-width="1.51" stroke-linejoin="round">S</text>
<text transform="matrix(0.2330 0 0 0.2508 309.24 125.41)" font-size="100" fill="#f00" stroke="#f00" stroke-width="1.65" stroke-linejoin="round">C</text>
<text transform="matrix(0.2235 0 0 0.2497 325.36 125.35)" font-size="100" fill="#f00" stroke="#f00" stroke-width="1.69" stroke-linejoin="round">D</text>
<text transform="matrix(0.2769 0 0 0.2505 342.00 125.40)" font-size="100" fill="#f00" stroke="#f00" stroke-width="1.52" stroke-linejoin="round">F</text>
<text transform="matrix(0.3205 0 0 0.2349 356.69 125.47)" font-size="100" fill="#f00" stroke="#f00" stroke-width="1.46" stroke-linejoin="round">s</text>
<path d="M292.1 117.6 H306.2 M299.15 110.4 V124.8" stroke="#f00" stroke-width="1.3" fill="none"/>
<text transform="matrix(0.2372 0 0 0.2489 218.62 161.80)" font-size="100" fill="#00f" stroke="#00f" stroke-width="1.65" stroke-linejoin="round">N</text>
<text transform="matrix(0.2394 0 0 0.2489 236.01 161.80)" font-size="100" fill="#00f" stroke="#00f" stroke-width="1.64" stroke-linejoin="round">H</text>
<text transform="matrix(0.2738 0 0 0.2493 253.37 161.81)" font-size="100" fill="#00f" stroke="#00f" stroke-width="1.53" stroke-linejoin="round">S</text>
<text transform="matrix(0.3799 0 0 0.3438 77.55 112.62)" font-size="100">0</text>
<text transform="matrix(0.3799 0 0 0.3438 57.45 112.62)" font-size="100">0</text>
<text transform="matrix(0.2840 0 0 0.3439 39.35 112.76)" font-size="100">1</text>
<text transform="matrix(0.3799 0 0 0.3438 77.55 264.52)" font-size="100">0</text>
<text transform="matrix(0.2840 0 0 0.3439 59.45 264.66)" font-size="100">1</text>
<text transform="matrix(0.2840 0 0 0.3439 79.55 416.55)" font-size="100">1</text>
<text transform="matrix(0.2840 0 0 0.3439 79.55 568.45)" font-size="100">1</text>
<text transform="matrix(0.3216 0 0 0.2793 68.03 568.36)" font-size="100">.</text>
<text transform="matrix(0.3799 0 0 0.3438 47.55 568.32)" font-size="100">0</text>
<text transform="matrix(0.2812 0 0 0.3393 91.06 674.40)" font-size="100">1</text>
<text transform="matrix(0.3987 0 0 0.3408 108.51 674.27)" font-size="100">0</text>
<rect x="130.53" y="657.65" width="11.2" height="1.35"/>
<text transform="matrix(0.1747 0 0 0.2007 145.32 664.48)" font-size="100" stroke="#000" stroke-width="2.40" stroke-linejoin="round">1</text>
<text transform="matrix(0.2376 0 0 0.1972 155.63 664.28)" font-size="100" stroke="#000" stroke-width="2.08" stroke-linejoin="round">6</text>
<text transform="matrix(0.2812 0 0 0.3393 219.83 674.40)" font-size="100">1</text>
<text transform="matrix(0.3987 0 0 0.3408 237.28 674.27)" font-size="100">0</text>
<rect x="259.3" y="657.65" width="11.2" height="1.35"/>
<text transform="matrix(0.1747 0 0 0.2007 274.09 664.48)" font-size="100" stroke="#000" stroke-width="2.40" stroke-linejoin="round">1</text>
<text transform="matrix(0.2520 0 0 0.1994 283.96 664.28)" font-size="100" stroke="#000" stroke-width="2.01" stroke-linejoin="round">5</text>
<text transform="matrix(0.2812 0 0 0.3393 348.60 674.40)" font-size="100">1</text>
<text transform="matrix(0.3987 0 0 0.3408 366.05 674.27)" font-size="100">0</text>
<rect x="388.07" y="657.65" width="11.2" height="1.35"/>
<text transform="matrix(0.1747 0 0 0.2007 402.86 664.48)" font-size="100" stroke="#000" stroke-width="2.40" stroke-linejoin="round">1</text>
<text transform="matrix(0.2184 0 0 0.2013 413.77 664.48)" font-size="100" stroke="#000" stroke-width="2.15" stroke-linejoin="round">4</text>
<text transform="matrix(0.2812 0 0 0.3393 477.37 674.40)" font-size="100">1</text>
<text transform="matrix(0.3987 0 0 0.3408 494.82 674.27)" font-size="100">0</text>
<rect x="516.84" y="657.65" width="11.2" height="1.35"/>
<text transform="matrix(0.1747 0 0 0.2007 531.63 664.48)" font-size="100" stroke="#000" stroke-width="2.40" stroke-linejoin="round">1</text>
<text transform="matrix(0.2457 0 0 0.1972 541.79 664.28)" font-size="100" stroke="#000" stroke-width="2.04" stroke-linejoin="round">3</text>
<text transform="matrix(0.2812 0 0 0.3393 606.14 674.40)" font-size="100">1</text>
<text transform="matrix(0.3987 0 0 0.3408 623.60 674.27)" font-size="100">0</text>
<rect x="645.61" y="657.65" width="11.2" height="1.35"/>
<text transform="matrix(0.1747 0 0 0.2007 660.40 664.48)" font-size="100" stroke="#000" stroke-width="2.40" stroke-linejoin="round">1</text>
<text transform="matrix(0.2532 0 0 0.2001 670.63 664.48)" font-size="100" stroke="#000" stroke-width="2.00" stroke-linejoin="round">2</text>
<text transform="matrix(0.3824 0 0 0.2454 283.97 712.78)" font-size="100" font-style="italic">f</text>
<text transform="matrix(0.2004 0 0 0.2085 298.39 726.67)" font-size="100" font-style="italic" stroke="#000" stroke-width="2.20" stroke-linejoin="round">X</text>
<text transform="matrix(0.3310 0 0 0.3617 329.75 716.30)" font-size="100">(</text>
<clipPath id="k1"><text transform="matrix(0.5285 0 0 0.3514 339.97 717.56)" font-size="100">e</text></clipPath><g clip-path="url(#k1)"><text transform="matrix(0.5285 0 0 0.3514 341.94 717.56)" font-size="100">e</text></g>
<clipPath id="k2"><text transform="matrix(0.5460 0 0 0.3502 360.00 717.50)" font-size="100">r</text></clipPath><g clip-path="url(#k2)"><text transform="matrix(0.5460 0 0 0.3502 362.01 717.50)" font-size="100">r</text></g>
<clipPath id="k3"><text transform="matrix(0.3928 0 0 0.3155 376.11 717.19)" font-size="100">g</text></clipPath><g clip-path="url(#k3)"><text transform="matrix(0.3928 0 0 0.3155 377.31 717.19)" font-size="100">g</text></g>
<clipPath id="k4"><text transform="matrix(0.4832 0 0 0.3514 417.34 717.56)" font-size="100">s</text></clipPath><g clip-path="url(#k4)"><text transform="matrix(0.4832 0 0 0.3514 418.92 717.56)" font-size="100">s</text></g>
<clipPath id="k5"><text transform="matrix(0.4176 0 0 0.3514 457.45 717.56)" font-size="100">c</text></clipPath><g clip-path="url(#k5)"><text transform="matrix(0.4176 0 0 0.3514 458.61 717.56)" font-size="100">c</text></g>
<clipPath id="k6"><text transform="matrix(0.4651 0 0 0.3502 473.85 717.50)" font-size="100">m</text></clipPath><g clip-path="url(#k6)"><text transform="matrix(0.4651 0 0 0.3502 475.52 717.50)" font-size="100">m</text></g>
<text transform="matrix(0.2407 0 0 0.1911 510.97 707.88)" font-size="100" stroke="#000" stroke-width="2.10" stroke-linejoin="round">2</text>
<text transform="matrix(0.3426 0 0 0.3617 524.20 716.30)" font-size="100">)</text>
<path d="M399.4 724 L417.8 691.2 M438.5 724 L456.9 691.2" stroke="#000" stroke-width="1.4" fill="none"/>
<g transform="rotate(-90)">
<text transform="matrix(0.2525 0 0 0.3439 -431.35 30.10)" font-size="100">A</text>
<clipPath id="k7"><text transform="matrix(0.5525 0 0 0.3396 -414.51 30.10)" font-size="100">r</text></clipPath><g clip-path="url(#k7)"><text transform="matrix(0.5525 0 0 0.3396 -412.41 30.10)" font-size="100">r</text></g>
<clipPath id="k8"><text transform="matrix(0.4539 0 0 0.3555 -398.37 30.15)" font-size="100">e</text></clipPath><g clip-path="url(#k8)"><text transform="matrix(0.4539 0 0 0.3555 -396.97 30.15)" font-size="100">e</text></g>
<clipPath id="k9"><text transform="matrix(0.4594 0 0 0.3570 -378.86 30.15)" font-size="100">a</text></clipPath><g clip-path="url(#k9)"><text transform="matrix(0.4594 0 0 0.3570 -377.42 30.15)" font-size="100">a</text></g>
<text transform="matrix(0.3387 0 0 0.3650 -337.89 28.63)" font-size="100">(</text>
<clipPath id="k10"><text transform="matrix(0.4140 0 0 0.3283 -327.10 30.18)" font-size="100">d</text></clipPath><g clip-path="url(#k10)"><text transform="matrix(0.4140 0 0 0.3283 -325.80 30.18)" font-size="100">d</text></g>
<clipPath id="k11"><text transform="matrix(0.4303 0 0 0.3555 -308.51 30.15)" font-size="100">e</text></clipPath><g clip-path="url(#k11)"><text transform="matrix(0.4303 0 0 0.3555 -307.28 30.15)" font-size="100">e</text></g>
<clipPath id="k12"><text transform="matrix(0.3763 0 0 0.3155 -288.20 29.59)" font-size="100">g</text></clipPath><g clip-path="url(#k12)"><text transform="matrix(0.3763 0 0 0.3155 -287.12 29.59)" font-size="100">g</text></g>
<text transform="matrix(0.2382 0 0 0.1956 -266.92 19.17)" font-size="100" stroke="#000" stroke-width="2.08" stroke-linejoin="round">2</text>
<text transform="matrix(0.3387 0 0 0.3650 -254.49 28.63)" font-size="100">)</text>
</g>
</g>
</svg>
</body></html>
